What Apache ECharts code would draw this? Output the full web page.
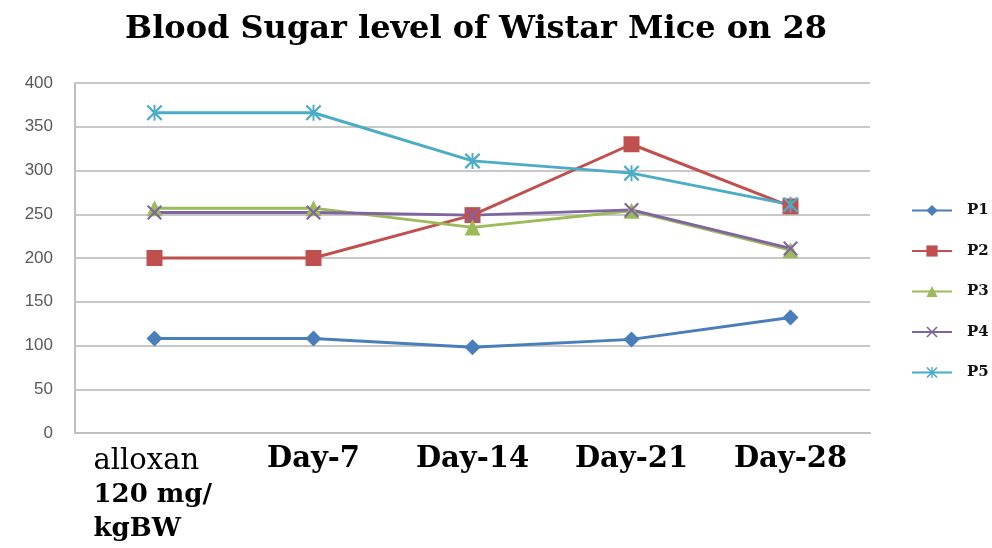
<!DOCTYPE html>
<html>
<head>
<meta charset="utf-8">
<script src="https://cdn.jsdelivr.net/npm/echarts@6/dist/echarts.min.js"></script>
<style>
  html, body { margin: 0; padding: 0; background: #fff; }
  #chart { width: 992px; height: 548px; }
</style>
</head>
<body>
<div id="chart"></div>
<script>
// data
const categories = ["alloxan", "Day-7", "Day-14", "Day-21", "Day-28"];
const yTicks = [0, 50, 100, 150, 200, 250, 300, 350, 400];
const p1 = [108, 108, 98, 107, 132];
const p2 = [200, 200, 249, 330, 259];
const p3 = [257, 257, 235, 254, 209];
const p4 = [252, 252, 249, 255, 211];
const p5 = [366, 366, 311, 297, 261];

// marker shapes
const xMark = "path://M0,1 L1,0 L5,4 L9,0 L10,1 L6,5 L10,9 L9,10 L5,6 L1,10 L0,9 L4,5 Z";
const starMark = "path://M0,1 L1,0 L5,4 L9,0 L10,1 L6,5 L10,9 L9,10 L5,6 L1,10 L0,9 L4,5 Z M4.4,0 L5.6,0 L5.6,10 L4.4,10 Z";

const serif = "'DejaVu Serif', 'Liberation Serif', serif";

function makeSeries(name, data, color, symbol, size) {
  return {
    name: name,
    type: "line",
    data: data,
    color: color,
    symbol: symbol,
    symbolSize: size,
    lineStyle: { width: 3, color: color },
    itemStyle: { color: color },
  };
}

const chart = echarts.init(document.getElementById("chart"));
chart.setOption({
  animation: false,
  title: {
    text: "Blood Sugar level of Wistar Mice on 28",
    left: 471,
    textAlign: "center",
    top: 9,
    textStyle: {
      fontFamily: serif,
      fontWeight: "bold",
      fontSize: 32,
      color: "#000",
    },
  },
  legend: {
    orient: "vertical",
    left: 906,
    top: 198,
    itemWidth: 40,
    itemHeight: 14,
    itemGap: 25.5,
    textStyle: {
      fontFamily: serif,
      fontWeight: "bold",
      fontSize: 15,
      color: "#111",
      padding: [0, 0, 0, 10],
    },
    data: ["P1", "P2", "P3", "P4", "P5"],
  },
  grid: {
    left: 75,
    right: 122,
    top: 83,
    bottom: 115,
    containLabel: false,
  },
  xAxis: {
    type: "category",
    data: categories,
    boundaryGap: true,
    axisLine: { lineStyle: { color: "#bfbfbf", width: 2 } },
    axisTick: { show: false },
    axisLabel: {
      interval: 0,
      margin: 12,
      color: "#000",
      fontFamily: serif,
      fontSize: 29,
      fontWeight: "bold",
      formatter: function (v, i) {
        if (i === 0) {
          return "{a|alloxan}\n{b|120 mg/}\n{b|kgBW}";
        }
        return v;
      },
      rich: {
        a: {
          width: 122,
          align: "left",
          fontFamily: serif,
          fontSize: 29,
          fontWeight: "normal",
          lineHeight: 33,
          color: "#000",
        },
        b: {
          width: 122,
          align: "left",
          fontFamily: serif,
          fontSize: 26,
          fontWeight: "bold",
          lineHeight: 34,
          color: "#000",
        },
      },
    },
  },
  yAxis: {
    type: "value",
    min: yTicks[0],
    max: yTicks[yTicks.length - 1],
    interval: 50,
    axisLine: { show: true, lineStyle: { color: "#bfbfbf", width: 2 } },
    axisTick: { show: false },
    axisLabel: {
      margin: 22,
      color: "#595959",
      fontFamily: "'Liberation Sans', sans-serif",
      fontSize: 17,
    },
    splitLine: { lineStyle: { color: "#c8c8c8", width: 2 } },
  },
  series: [
    makeSeries("P1", p1, "#4a7ebb", "diamond", 16),
    makeSeries("P2", p2, "#c0504d", "rect", 16),
    makeSeries("P3", p3, "#9bbb59", "triangle", 16),
    makeSeries("P4", p4, "#8064a2", xMark, 15),
    makeSeries("P5", p5, "#4bacc6", starMark, 16),
  ],
});
</script>
</body>
</html>
